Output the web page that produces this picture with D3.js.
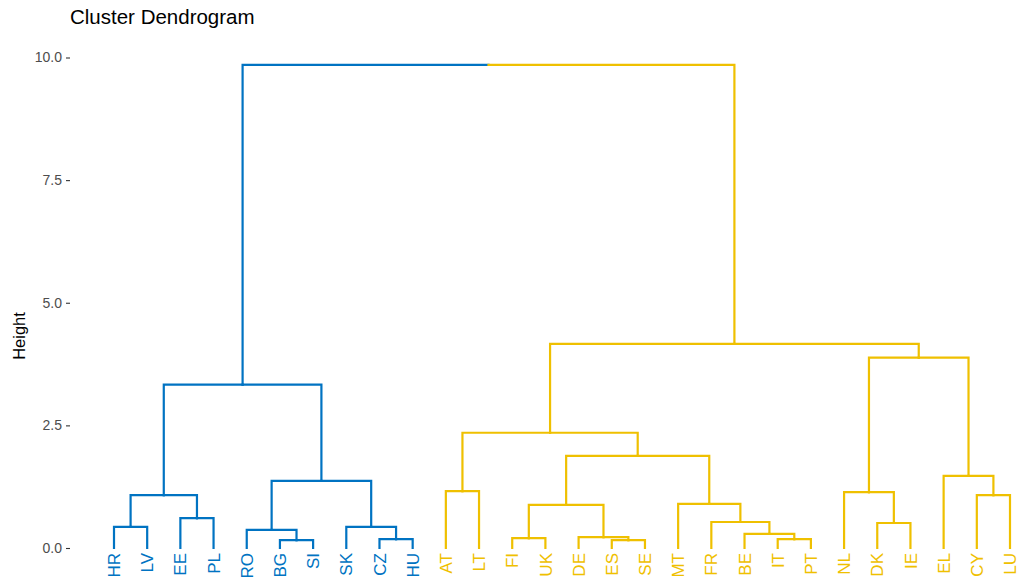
<!DOCTYPE html>
<html>
<head>
<meta charset="utf-8">
<script src="https://cdn.jsdelivr.net/npm/d3@7"></script>
<style>
  body { margin: 0; background: #fff; }
  text { font-family: "Liberation Sans", Arial, Helvetica, sans-serif; }
</style>
</head>
<body>
<div id="chart"></div>
<script>
// Leaves in dendrogram order, with their cluster (1 = blue, 2 = yellow)
const leaves = ["HR", "LV", "EE", "PL", "RO", "BG", "SI", "SK", "CZ", "HU",
  "AT", "LT", "FI", "UK", "DE", "ES", "SE", "MT", "FR", "BE", "IT", "PT",
  "NL", "DK", "IE", "EL", "CY", "LU"];
const leafCluster = [1, 1, 1, 1, 1, 1, 1, 1, 1, 1,
  2, 2, 2, 2, 2, 2, 2, 2, 2, 2, 2, 2,
  2, 2, 2, 2, 2, 2];

// Merges: children are leaf names or "m<index>" of an earlier merge
const merges = [
  ["BG", "SI"], ["ES", "SE"], ["CZ", "HU"], ["IT", "PT"], ["FI", "UK"],
  ["DE", "m1"], ["BE", "m3"], ["RO", "m0"], ["HR", "LV"], ["SK", "m2"],
  ["DK", "IE"], ["FR", "m6"], ["EE", "PL"], ["m4", "m5"], ["MT", "m11"],
  ["m8", "m12"], ["CY", "LU"], ["NL", "m10"], ["AT", "LT"], ["m7", "m9"],
  ["EL", "m16"], ["m13", "m14"], ["m18", "m21"], ["m15", "m19"],
  ["m17", "m20"], ["m22", "m24"], ["m23", "m25"]
];
const mergeHeight = [0.16, 0.16, 0.18, 0.18, 0.20,
  0.22, 0.29, 0.37, 0.43, 0.43,
  0.51, 0.53, 0.61, 0.88, 0.90,
  1.08, 1.08, 1.14, 1.16, 1.37,
  1.47, 1.88, 2.35, 3.33,
  3.88, 4.16, 9.85];

const yTicks = [0, 2.5, 5, 7.5, 10];
const clusterColors = { 1: "#0073C2", 2: "#EFC000" };

const w = 1019;
const h = 580;

const svg = d3.select("#chart").append("svg")
  .attr("width", w)
  .attr("height", h);

const xScale = d3.scalePoint().domain(leaves).range([114, 1010]);
const yScale = d3.scaleLinear().domain([0, 10]).range([548, 57.5]);

// build node lookup
const nodes = {};
leaves.forEach((l, i) => {
  nodes[l] = { x: xScale(l), h: 0, cluster: leafCluster[i] };
});
merges.forEach((m, i) => {
  const a = nodes[m[0]], b = nodes[m[1]];
  nodes["m" + i] = {
    x: (a.x + b.x) / 2,
    h: mergeHeight[i],
    cluster: a.cluster === b.cluster ? a.cluster : 0
  };
});

// elbow segments: each child draws its half of the parent's bar + its vertical
const segs = [];
merges.forEach((m, i) => {
  const p = nodes["m" + i];
  m.forEach(c => {
    const ch = nodes[c];
    segs.push({ px: p.x, ph: p.h, cx: ch.x, ch: ch.h, cluster: ch.cluster });
  });
});

svg.append("g")
  .selectAll("path")
  .data(segs)
  .enter()
  .append("path")
  .attr("d", d => `M${d.px},${yScale(d.ph)}H${d.cx}V${yScale(d.ch)}`)
  .attr("fill", "none")
  .attr("stroke", d => clusterColors[d.cluster])
  .attr("stroke-width", 2.2)
  .attr("stroke-linecap", "square");

// leaf labels
svg.append("g")
  .selectAll("text")
  .data(leaves)
  .enter()
  .append("text")
  .text(d => d)
  .attr("transform", d => `translate(${xScale(d)},553) rotate(-90)`)
  .attr("text-anchor", "end")
  .attr("dy", "0.36em")
  .attr("font-size", "17px")
  .attr("fill", (d, i) => clusterColors[leafCluster[i]]);

// y axis
const yAxis = d3.axisLeft(yScale)
  .tickValues(yTicks)
  .tickFormat(d3.format(".1f"))
  .tickSize(4)
  .tickPadding(4);
const gy = svg.append("g")
  .attr("transform", "translate(70,0)")
  .call(yAxis);
gy.select(".domain").remove();
gy.selectAll(".tick line").attr("stroke", "#333333").attr("stroke-width", 1.1);
gy.selectAll(".tick text")
  .attr("fill", "#4d4d4d")
  .attr("font-size", "14px")
  .attr("font-family", "Liberation Sans, Arial, sans-serif");

// axis title
svg.append("text")
  .text("Height")
  .attr("transform", "translate(25,336) rotate(-90)")
  .attr("text-anchor", "middle")
  .attr("font-size", "16.5px")
  .attr("fill", "#000");

// title
svg.append("text")
  .text("Cluster Dendrogram")
  .attr("x", 70)
  .attr("y", 24)
  .attr("font-size", "20.5px")
  .attr("fill", "#000");
</script>
</body>
</html>
